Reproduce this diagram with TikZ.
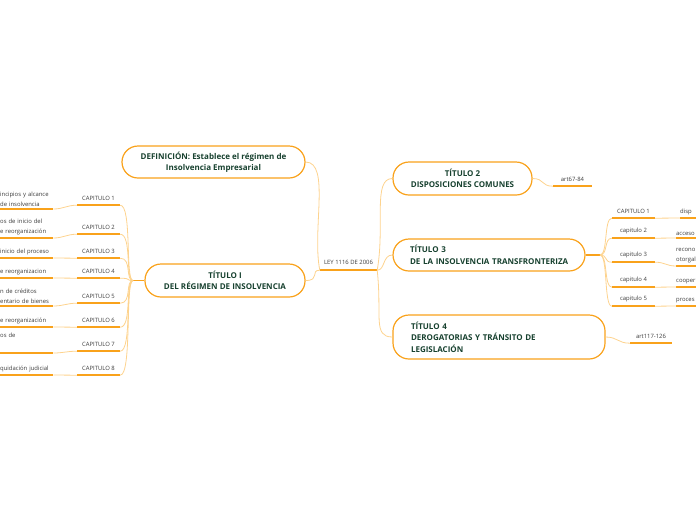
\documentclass[tikz,border=0pt]{standalone}
\usepackage{fontspec}
\setmainfont{Open Sans}
\usetikzlibrary{positioning}
\definecolor{bordc}{HTML}{F9A21B}
\definecolor{linec}{HTML}{FDD38E}
\definecolor{titc}{HTML}{17412F}
\definecolor{txtc}{HTML}{3C3C3C}
\tikzset{
  pill/.style={draw=bordc,line width=1.2pt,rounded corners=16pt,fill=white,text=titc,
    font=\bfseries\fontsize{8}{11.5}\selectfont,inner xsep=0pt},
  lbl/.style={font=\fontsize{5.9}{10}\selectfont,text=txtc,inner sep=0pt,minimum height=14pt},
  desc/.style={font=\fontsize{5.9}{10}\selectfont,text=txtc,inner xsep=0pt,inner ysep=2.5pt,
    anchor=south west,align=left},
  ul/.style={bordc,line width=1.6pt},
  conn/.style={linec,line width=0.8pt}
}
\begin{document}
\begin{tikzpicture}[x=1pt,y=-1pt]
\useasboundingbox (0,0) rectangle (696,520);
\clip (0,0) rectangle (696,520);
% centro
\node[lbl,minimum width=57pt,minimum height=16pt] (ley) at (348.5,262) {LEY 1116 DE 2006};
\draw[ul] (ley.south west) -- (ley.south east);
% titulos
\node[pill,minimum width=183pt,minimum height=32pt,align=center] (def) at (213.5,162)
  {DEFINICIÓN: Establece el régimen de\\Insolvencia Empresarial};
\node[pill,minimum width=160pt,minimum height=33pt,align=center] (t1) at (225,280.5)
  {TÍTULO I\\DEL RÉGIMEN DE INSOLVENCIA};
\node[pill,minimum width=139pt,minimum height=33pt,align=center] (t2) at (462.5,178.5)
  {TÍTULO 2\\DISPOSICIONES COMUNES};
\node[pill,text width=158pt,inner xsep=17pt,minimum height=32pt,align=left] (t3) at (489,255)
  {TÍTULO 3\\\mbox{DE LA INSOLVENCIA TRANSFRONTERIZA}};
\node[pill,text width=176pt,inner xsep=18pt,minimum height=44pt,align=left] (t4) at (499,337)
  {TÍTULO 4\\DEROGATORIAS Y TRÁNSITO DE\\LEGISLACIÓN};
\draw[conn] (ley.south west) .. controls +(-8,-40) and +(25,0) .. (def.east);
\draw[conn] (ley.south west) .. controls +(-10,0) and +(15,0) .. (t1.east);
\draw[conn] (ley.south east) .. controls +(8,-45) and +(-20,0) .. (t2.west);
\draw[conn] (ley.south east) .. controls +(8,0) and +(-10,0) .. (t3.west);
\draw[conn] (ley.south east) .. controls +(5,45) and +(-20,0) .. (t4.west);
% capitulos del titulo I
\coordinate (j1) at (133,280.5);
\draw[ul] (j1) -- (t1.west);
\node[lbl,minimum width=43pt] (c1) at (98.5,198) {CAPITULO 1};
\node[lbl,minimum width=43pt] (c2) at (98.5,227) {CAPITULO 2};
\node[lbl,minimum width=43pt] (c3) at (98.5,251) {CAPITULO 3};
\node[lbl,minimum width=43pt] (c4) at (98.5,271) {CAPITULO 4};
\node[lbl,minimum width=43pt] (c5) at (98.5,296) {CAPITULO 5};
\node[lbl,minimum width=43pt] (c6) at (98.5,320) {CAPITULO 6};
\node[lbl,minimum width=43pt] (c7) at (98.5,344) {CAPITULO 7};
\node[lbl,minimum width=43pt] (c8) at (98.5,368) {CAPITULO 8};
\node[desc,text width=53pt] (d1) at (0,209) {incipios y alcance\\de insolvencia};
\node[desc,text width=53pt] (d2) at (0,238) {os de inicio del\\e reorganización};
\node[desc,text width=53pt] (d3) at (0,258) {inicio del proceso};
\node[desc,text width=53pt] (d4) at (0,278) {e reorganizacion};
\node[desc,text width=53pt] (d5) at (0,306) {n de créditos\\entario de bienes};
\node[desc,text width=53pt] (d6) at (0,327) {e reorganización};
\node[desc,text width=53pt] (d7) at (0,353) {os de\\\strut};
\node[desc,text width=53pt] (d8) at (0,375) {quidación judicial};
\draw[ul] (c1.south west) -- (c1.south east);
\draw[ul] (c2.south west) -- (c2.south east);
\draw[ul] (c3.south west) -- (c3.south east);
\draw[ul] (c4.south west) -- (c4.south east);
\draw[ul] (c5.south west) -- (c5.south east);
\draw[ul] (c6.south west) -- (c6.south east);
\draw[ul] (c7.south west) -- (c7.south east);
\draw[ul] (c8.south west) -- (c8.south east);
\draw[ul] (d1.south west) -- (d1.south east);
\draw[ul] (d2.south west) -- (d2.south east);
\draw[ul] (d3.south west) -- (d3.south east);
\draw[ul] (d4.south west) -- (d4.south east);
\draw[ul] (d5.south west) -- (d5.south east);
\draw[ul] (d6.south west) -- (d6.south east);
\draw[ul] (d7.south west) -- (d7.south east);
\draw[ul] (d8.south west) -- (d8.south east);
\draw[conn] (d1.south east) .. controls +(10,0) and +(-10,0) .. (c1.south west);
\draw[conn] (d2.south east) .. controls +(10,0) and +(-10,0) .. (c2.south west);
\draw[conn] (d3.south east) -- (c3.south west);
\draw[conn] (d4.south east) -- (c4.south west);
\draw[conn] (d5.south east) .. controls +(10,0) and +(-10,0) .. (c5.south west);
\draw[conn] (d6.south east) -- (c6.south west);
\draw[conn] (d7.south east) .. controls +(10,0) and +(-10,0) .. (c7.south west);
\draw[conn] (d8.south east) -- (c8.south west);
\draw[conn] (c1.south east) .. controls +(12,0) and +(-8,0) .. (j1);
\draw[conn] (c2.south east) .. controls +(12,0) and +(-8,0) .. (j1);
\draw[conn] (c3.south east) .. controls +(12,0) and +(-8,0) .. (j1);
\draw[conn] (c4.south east) .. controls +(12,0) and +(-8,0) .. (j1);
\draw[conn] (c5.south east) .. controls +(12,0) and +(-8,0) .. (j1);
\draw[conn] (c6.south east) .. controls +(12,0) and +(-8,0) .. (j1);
\draw[conn] (c7.south east) .. controls +(12,0) and +(-8,0) .. (j1);
\draw[conn] (c8.south east) .. controls +(12,0) and +(-8,0) .. (j1);
% articulos
\node[lbl,minimum width=39pt] (a2) at (572.5,179) {art67-84};
\draw[ul] (a2.south west) -- (a2.south east);
\draw[conn] (t2.east) .. controls +(12,0) and +(-12,0) .. (a2.south west);
\node[lbl,minimum width=42pt] (a4) at (651,336) {art117-126};
\draw[ul] (a4.south west) -- (a4.south east);
\draw[conn] (t4.east) .. controls +(12,0) and +(-12,0) .. (a4.south west);
% capitulos del titulo 3
\coordinate (j3) at (600,255);
\draw[ul] (t3.east) -- (j3);
\node[lbl,minimum width=43pt] (r1) at (633.5,211) {CAPITULO 1};
\node[lbl,minimum width=43pt] (r2) at (633.5,231) {capitulo 2};
\node[lbl,minimum width=43pt] (r3) at (633.5,255) {capitulo 3};
\node[lbl,minimum width=43pt] (r4) at (633.5,280) {capitulo 4};
\node[lbl,minimum width=43pt] (r5) at (633.5,299) {capitulo 5};
\node[desc,text width=40pt] (s1) at (680,218) {disp};
\node[desc,text width=40pt] (s2) at (676,238) {acceso};
\node[desc,text width=40pt] (s3) at (676,266) {recono\\otorgal};
\node[desc,text width=40pt] (s4) at (676,287) {cooper};
\node[desc,text width=40pt] (s5) at (676,306) {proces};
\draw[ul] (r1.south west) -- (r1.south east);
\draw[ul] (r2.south west) -- (r2.south east);
\draw[ul] (r3.south west) -- (r3.south east);
\draw[ul] (r4.south west) -- (r4.south east);
\draw[ul] (r5.south west) -- (r5.south east);
\draw[ul] (s1.south west) -- (s1.south east);
\draw[ul] (s2.south west) -- (s2.south east);
\draw[ul] (s3.south west) -- (s3.south east);
\draw[ul] (s4.south west) -- (s4.south east);
\draw[ul] (s5.south west) -- (s5.south east);
\draw[conn] (j3) .. controls +(8,0) and +(-8,0) .. (r1.south west);
\draw[conn] (j3) .. controls +(8,0) and +(-8,0) .. (r2.south west);
\draw[conn] (j3) .. controls +(8,0) and +(-8,0) .. (r3.south west);
\draw[conn] (j3) .. controls +(8,0) and +(-8,0) .. (r4.south west);
\draw[conn] (j3) .. controls +(8,0) and +(-8,0) .. (r5.south west);
\draw[conn] (r1.south east) -- (s1.south west);
\draw[conn] (r2.south east) -- (s2.south west);
\draw[conn] (r3.south east) .. controls +(10,0) and +(-10,0) .. (s3.south west);
\draw[conn] (r4.south east) -- (s4.south west);
\draw[conn] (r5.south east) -- (s5.south west);
\end{tikzpicture}
\end{document}
